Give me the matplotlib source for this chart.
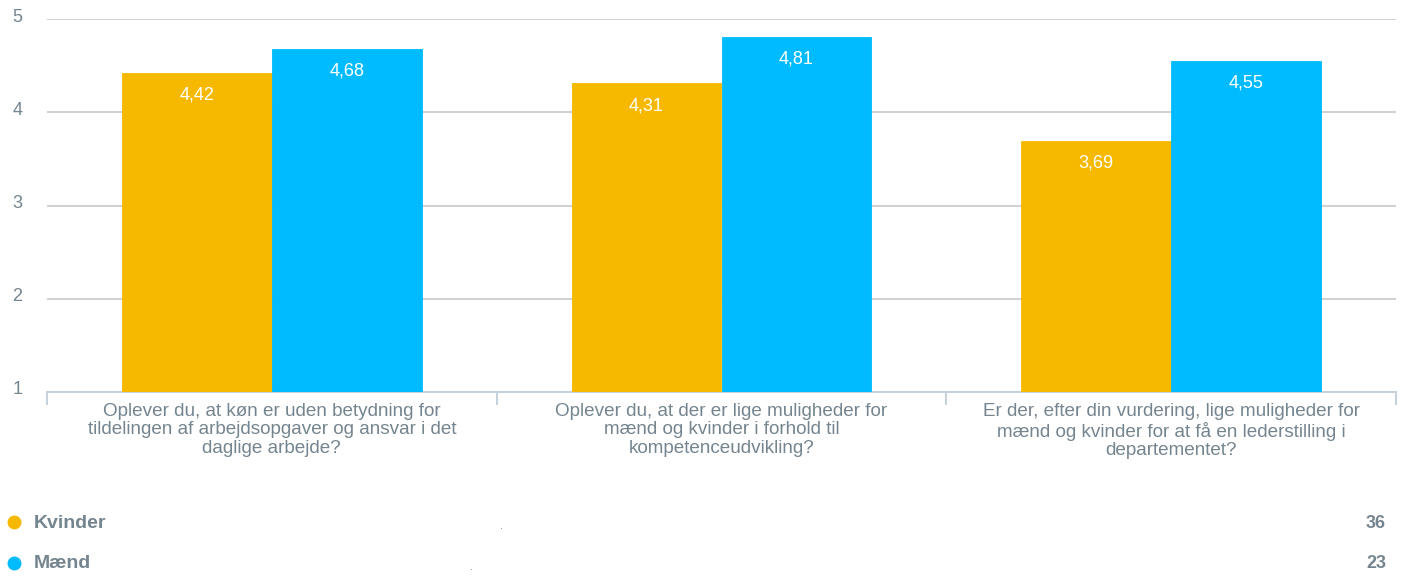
import matplotlib.pyplot as plt
import matplotlib.transforms as mtransforms
import numpy as np

plt.rcParams['font.family'] = ['Liberation Sans', 'DejaVu Sans']

questions = [
    "Oplever du, at køn er uden betydning for\ntildelingen af arbejdsopgaver og ansvar i det\ndaglige arbejde?",
    "Oplever du, at der er lige muligheder for\nmænd og kvinder i forhold til\nkompetenceudvikling?",
    "Er der, efter din vurdering, lige muligheder for\nmænd og kvinder for at få en lederstilling i\ndepartementet?",
]
series = ["Kvinder", "Mænd"]
kvinder = [4.42, 4.31, 3.69]
maend = [4.68, 4.81, 4.55]
counts = [36, 23]
colors = ["#f7b900", "#00bbff"]
txt = "#75858f"

fig = plt.figure(figsize=(14.04, 5.76), dpi=100)
ax = fig.add_axes([47/1404, 1 - 392/576, (1396 - 47)/1404, (392 - 19)/576])

x = np.arange(len(questions))
w = 1/3
for i, (vals, c) in enumerate(zip([kvinder, maend], colors)):
    xs = x + (i - 0.5) * w
    ax.bar(xs, vals, width=w, color=c, edgecolor=c, linewidth=0.6, zorder=3)
    for xi, v in zip(xs, vals):
        ax.annotate(f"{v:.2f}".replace(".", ","), (xi, v), xytext=(0, -16),
                    textcoords="offset points", ha="center", va="center",
                    color="white", fontsize=13, zorder=4)

ax.set_xlim(-0.5, len(questions) - 0.5)
ax.set_ylim(1, 5)
ax.set_yticks([1, 2, 3, 4, 5])
ax.yaxis.grid(True, color="#d2d2d2", linewidth=1.5, zorder=0)
ax.set_xticks(x)
ax.set_xticklabels(questions, fontsize=13.6, color=txt, linespacing=1.1)
ax.set_xticks(np.arange(-0.5, len(questions)), minor=True)
ax.tick_params(axis="x", which="major", length=0, pad=8)
ax.tick_params(axis="x", which="minor", length=9, color="#c8d2dc", width=1.5)
ax.tick_params(axis="y", length=0, labelsize=13, labelcolor=txt, pad=25)
shift = mtransforms.ScaledTranslation(0, 4/100, fig.dpi_scale_trans)
for lab in ax.get_yticklabels():
    lab.set_horizontalalignment("left")
    lab.set_transform(lab.get_transform() + shift)
for s in ["top", "right", "left"]:
    ax.spines[s].set_visible(False)
ax.spines["bottom"].set_color("#c8d2dc")
ax.spines["bottom"].set_linewidth(1.5)

# legend rows drawn in pixel coordinates on an overlay
lg = fig.add_axes([0, 0, 1, 1], facecolor="none")
lg.set_xlim(0, 1404)
lg.set_ylim(576, 0)
lg.axis("off")
rows_y = [522, 563]
dots_x = [500, 470]
for name, c, n, yy, dx in zip(series, colors, counts, rows_y, dots_x):
    lg.plot([14], [yy], marker="o", markersize=9, color=c, linestyle="none")
    lg.text(34, yy + 1, name, fontsize=14, fontweight="bold", color=txt, va="center")
    lg.text(dx, yy + 4, ".", fontsize=8, color=txt, va="center")
    lg.text(1386, yy + 1, str(n), fontsize=13, fontweight="bold", color=txt,
            va="center", ha="right")

fig.savefig("out.png", dpi=100)
